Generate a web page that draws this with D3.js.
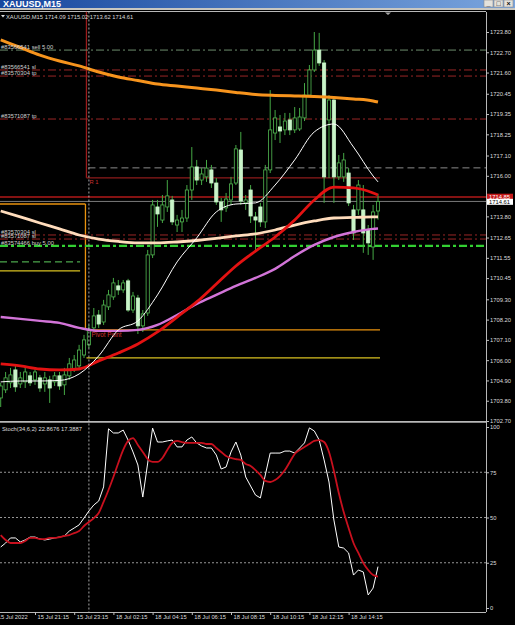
<!DOCTYPE html>
<html><head><meta charset="utf-8">
<script src="https://cdn.jsdelivr.net/npm/d3@7/dist/d3.min.js"></script>
<style>
html,body{margin:0;padding:0;background:#000;overflow:hidden}
svg{display:block}
text{font-family:"Liberation Sans",Arial,sans-serif}
</style></head><body>
<svg id="chart" width="515" height="625"></svg>
<script>
// ---------------- DATA ----------------
const symbol = "XAUUSD,M15";
const opens = [1703.95,1704.39,1704.77,1705.47,1704.71,1704.82,1705.15,1704.93,1705.04,1704.71,
1704.93,1704.82,1705.15,1704.66,1705.15,1705.47,1705.69,1706.28,1706.83,1707.75,
1708.45,1708.07,1708.89,1709.43,1710.03,1709.81,1710.30,1708.72,1709.37,1707.86,
1708.56,1711.71,1714.31,1713.60,1714.31,1714.69,1713.33,1713.50,1713.71,1715.23,
1716.48,1715.77,1715.94,1716.32,1715.61,1714.58,1714.26,1714.69,1715.61,1717.40,
1714.53,1715.23,1713.77,1714.31,1713.50,1716.32,1718.32,1718.65,1718.49,1719.03,
1718.49,1718.54,1719.14,1720.38,1721.74,1722.82,1722.12,1719.03,1720.11,1715.94,
1715.94,1716.15,1714.15,1714.15,1714.15,1713.06,1712.14,1714.09];
const highs = [1704.77,1705.36,1705.58,1705.69,1705.36,1705.69,1705.36,1705.58,1705.20,1705.36,
1705.15,1705.36,1705.36,1705.58,1706.12,1706.28,1706.83,1707.37,1707.91,1708.83,
1708.72,1709.27,1709.81,1710.46,1710.35,1710.35,1710.41,1709.70,1709.54,1708.72,
1711.98,1714.69,1714.69,1714.96,1715.77,1714.91,1713.88,1714.15,1715.50,1717.56,
1716.86,1716.42,1716.86,1716.59,1715.88,1714.80,1715.07,1715.94,1717.67,1718.38,
1714.96,1715.50,1714.04,1714.53,1716.59,1720.65,1719.57,1719.30,1719.41,1719.41,
1719.73,1719.68,1721.03,1722.01,1723.80,1723.75,1722.28,1720.38,1720.27,1717.13,
1717.24,1716.42,1714.42,1715.77,1715.50,1713.33,1714.42,1715.02];
const lows = [1703.46,1704.22,1704.49,1704.28,1704.49,1704.49,1704.60,1704.66,1704.28,1704.28,
1703.68,1704.60,1704.39,1704.11,1704.93,1705.36,1705.47,1706.12,1706.66,1707.53,
1707.75,1707.91,1708.72,1709.27,1709.54,1709.65,1708.62,1708.56,1707.42,1707.53,
1708.40,1711.54,1713.23,1713.44,1714.04,1713.33,1712.95,1712.95,1713.50,1714.69,
1715.50,1715.50,1715.67,1715.34,1714.42,1713.50,1714.04,1714.42,1715.50,1714.42,
1714.15,1713.44,1711.98,1713.23,1713.17,1716.15,1717.94,1717.78,1718.21,1718.21,
1718.32,1718.43,1718.97,1720.27,1721.63,1721.96,1714.53,1715.88,1714.53,1715.77,
1715.67,1714.36,1712.52,1713.88,1711.82,1711.71,1711.44,1713.62];
const closes = [1704.60,1705.04,1705.20,1704.55,1705.04,1705.36,1704.77,1705.36,1704.49,1705.04,
1704.49,1705.15,1704.60,1705.20,1705.80,1706.01,1706.55,1707.10,1707.64,1708.40,
1707.96,1708.99,1709.54,1710.19,1709.81,1710.19,1708.72,1709.48,1707.86,1708.51,
1711.71,1714.42,1713.93,1714.42,1714.91,1713.50,1713.60,1713.71,1715.23,1716.48,
1715.77,1716.10,1716.42,1715.61,1714.58,1714.15,1714.74,1715.56,1717.46,1714.63,
1714.69,1713.82,1713.60,1713.50,1716.32,1718.49,1719.14,1718.43,1718.97,1718.49,
1719.14,1719.19,1720.38,1721.74,1722.82,1722.12,1715.94,1720.11,1715.94,1716.70,
1716.86,1714.53,1712.90,1715.50,1712.90,1712.36,1714.04,1714.61];

// moving averages sampled at these bar indices
const maIdx = [0,4,8,12,16,20,24,28,32,36,40,44,48,52,56,60,64,68,72,76,77];
const maOrange = [1723.37,1722.96,1722.55,1722.23,1721.96,1721.63,1721.36,1721.17,1720.98,1720.87,1720.76,1720.65,1720.52,1720.41,1720.36,1720.33,1720.30,1720.25,1720.17,1720.06,1720.00];
const maPeach = [1714.09,1713.77,1713.44,1713.12,1712.79,1712.57,1712.44,1712.36,1712.36,1712.41,1712.49,1712.60,1712.74,1712.85,1713.06,1713.33,1713.55,1713.71,1713.74,1713.77,1713.77];
const maPink = [1708.34,1708.24,1708.13,1708.02,1707.75,1707.59,1707.59,1707.64,1707.91,1708.45,1709.05,1709.54,1710.03,1710.46,1710.95,1711.65,1712.25,1712.68,1712.95,1713.12,1713.14];
const maRed = [1705.80,1705.69,1705.52,1705.47,1705.52,1705.96,1706.39,1706.88,1707.53,1708.34,1709.16,1710.13,1711.11,1711.92,1712.68,1713.60,1714.69,1715.39,1715.34,1715.07,1714.96];
const maWhite = [1704.82,1704.87,1704.87,1704.90,1705.25,1706.23,1707.64,1708.13,1709.54,1711.33,1712.63,1714.04,1714.47,1714.53,1715.50,1716.86,1718.38,1718.81,1717.56,1715.99,1715.67];

// stochastic (34,6,2)
const stochK = [33.7,35.9,38.7,38.7,36.5,37.6,39.2,39.2,38.1,37.6,
38.1,38.7,39.2,39.8,42.5,44.2,45.9,49.7,53.6,56.9,
59.1,66.9,99.0,96.7,96.7,98.3,92.8,86.2,79.0,61.3,
80.1,99.4,91.7,91.7,92.3,92.8,89.0,89.0,92.8,94.5,
91.2,89.5,88.4,88.4,84.5,76.8,77.9,86.2,91.7,84.5,
72.4,67.4,62.4,60.8,73.5,85.6,85.6,85.6,86.7,86.7,
85.6,88.4,91.2,99.5,97.8,92.8,81.8,69.6,48.6,33.7,
33.1,30.4,18.2,21.0,19.9,7.2,11.0,22.8676];
const stochD = [40.3,37.6,35.9,35.9,35.9,37.0,38.7,38.7,38.1,38.1,
38.7,38.7,39.2,39.8,40.3,41.4,42.5,45.3,47.5,49.7,
52.5,58.6,65.2,72.4,80.1,87.3,92.3,93.9,90.0,86.2,
82.3,80.7,80.7,82.9,87.3,91.2,92.3,91.7,91.2,91.2,
91.2,91.2,90.6,90.6,88.4,86.2,84.0,82.9,82.3,81.8,
79.6,78.5,76.2,73.5,70.2,69.6,70.7,72.9,76.2,80.7,
85.1,87.3,89.0,90.6,92.3,92.8,91.7,86.2,75.7,63.5,
53.0,44.2,35.9,30.4,24.9,21.0,18.2,17.3887];
const stochLabel = "Stoch(34,6,2)";

// trade lines
const orderPrices = [1722.82,1721.74,1721.41,1719.08,1712.79,1712.57,1712.20];
const orderLabels = ["#83566541 sell 5.00","#83566541 sl","#83570304 tp","#83571087 tp","#83570304 sl","#83571087 sl","#83574466 buy 5.00"];
const orderTypes = ["sell","sl","tp","tp","sl","sl","buy"];

// pivot levels (previous day / current day)
const pivotPrev = 1714.47, pivotNew = 1707.64;
const s1Prev = 1710.84, s1New = 1706.12;
const greenPrev = 1711.33;
const r1New = 1715.89;
const greyLevel = 1716.43;
const alertPrice = 1714.85;
const dayStartBar = 18;

// axes
const priceTicks = [1723.80,1722.70,1721.60,1720.45,1719.35,1718.25,1717.10,1716.00,1713.80,1712.65,1711.55,1710.45,1709.30,1708.20,1707.10,1706.00,1704.90,1703.80,1702.70];
const stochTicks = [100,75,50,25,0];
const stochLevels = [75,50,25];
const xTickBars = [0,7,15,23,31,39,47,55,63,71];
const xTickLabels = ["15 Jul 2022","15 Jul 21:15","15 Jul 23:15","18 Jul 02:15","18 Jul 04:15","18 Jul 06:15","18 Jul 08:15","18 Jul 10:15","18 Jul 12:15","18 Jul 14:15"];

// ---------------- DRAW ----------------
const svg = d3.select('#chart');
const AX = 486, MT = 11.5, MB = 421, ST = 422.5, SB = 612;
const n = closes.length;
const x = d3.scaleLinear().domain([0, n - 1]).range([0.7, 378]);
const y = d3.scaleLinear().domain([1702.70, 1723.80]).range([421, 32]);
const ys = d3.scaleLinear().domain([0, 100]).range([608, 427]);
const FS = 5.8, TXT = '#dcdcdc';

svg.append('rect').attr('width', 515).attr('height', 625).attr('fill', '#000');
const defs = svg.append('defs');
const tg = defs.append('linearGradient').attr('id', 'tb').attr('x1', 0).attr('x2', 1).attr('y1', 0).attr('y2', 0);
tg.append('stop').attr('offset', '0%').attr('stop-color', '#17479e');
tg.append('stop').attr('offset', '100%').attr('stop-color', '#7aa5de');
defs.append('clipPath').attr('id', 'cm').append('rect').attr('x', 0).attr('y', MT).attr('width', AX).attr('height', MB - MT);
defs.append('clipPath').attr('id', 'cs').append('rect').attr('x', 0).attr('y', ST).attr('width', AX).attr('height', SB - ST);

// title bar
svg.append('rect').attr('x', 0).attr('y', 0).attr('width', 515).attr('height', 8).attr('fill', 'url(#tb)');
svg.append('rect').attr('x', 0).attr('y', 8).attr('width', 515).attr('height', 2).attr('fill', '#c9c7c0');
svg.append('text').attr('x', 3).attr('y', 6.5).attr('fill', '#fff').attr('font-size', 9).attr('font-weight', 'bold').text(symbol);
const btns = ['_', '□', '×'];
btns.forEach((b, i) => {
  const bx = 484 + i * 10;
  svg.append('rect').attr('x', bx).attr('y', 0).attr('width', 9).attr('height', 7).attr('fill', '#e4e2dc').attr('stroke', '#8a8a8a').attr('stroke-width', 0.6);
  svg.append('text').attr('x', bx + 4.5).attr('y', 6).attr('text-anchor', 'middle').attr('font-size', 7).attr('font-weight', 'bold').attr('fill', '#111').text(b);
});

// frame lines
const frame = svg.append('g').attr('stroke', '#b8b8b8').attr('shape-rendering', 'crispEdges');
frame.append('line').attr('x1', 0).attr('x2', AX).attr('y1', MT).attr('y2', MT);
frame.append('line').attr('x1', AX).attr('x2', AX).attr('y1', MT).attr('y2', SB);
frame.append('line').attr('x1', 0).attr('x2', AX).attr('y1', MB).attr('y2', MB).attr('stroke-width', 1);
frame.append('line').attr('x1', 0).attr('x2', AX).attr('y1', ST).attr('y2', ST).attr('stroke', '#888');
frame.append('line').attr('x1', 0).attr('x2', AX).attr('y1', SB).attr('y2', SB);

// shift marker
svg.append('path').attr('d', `M385,12.5 L391,12.5 L388,15 Z`).attr('fill', '#a8a8a8');

const gm = svg.append('g').attr('clip-path', 'url(#cm)');
function hl(g, p, x1, x2, color, w, dash) {
  const l = g.append('line').attr('x1', x1).attr('x2', x2).attr('y1', y(p)).attr('y2', y(p))
    .attr('stroke', color).attr('stroke-width', w);
  if (dash) l.attr('stroke-dasharray', dash);
  return l;
}
const xb = (x(dayStartBar - 1) + x(dayStartBar)) / 2;
const xEnd = x(n - 1) + 2;

// previous-day pivot levels
hl(gm, greenPrev, 0, x(dayStartBar - 2) + 1, '#5fcf5f', 1, '7,4');
hl(gm, s1Prev, 0, x(dayStartBar - 2) + 1, '#d8c020', 1.3);
hl(gm, pivotPrev, 0, xb - 1, '#e8920e', 1.3);
gm.append('line').attr('x1', xb - 1).attr('x2', xb - 1).attr('y1', y(pivotPrev)).attr('y2', y(pivotNew)).attr('stroke', '#e8920e').attr('stroke-width', 1.3);
// current-day pivot levels
hl(gm, pivotNew, xb, xEnd, '#e8920e', 1.3);
hl(gm, s1New, xb, xEnd, '#d8c020', 1.3);
hl(gm, r1New, xb, xEnd, '#8e1b1b', 1.3);
gm.append('line').attr('x1', xb).attr('x2', xb).attr('y1', MT).attr('y2', y(r1New)).attr('stroke', '#9b1c1c').attr('stroke-width', 1.3);
gm.append('text').attr('x', xb + 3).attr('y', y(r1New) + 6).attr('fill', '#c83030').attr('font-size', FS).text('R 1');
gm.append('text').attr('x', xb + 5).attr('y', y(pivotNew) + 7).attr('fill', '#d03030').attr('font-size', 6.3).text('Pivot Point');
hl(gm, greyLevel, xb + 2, AX, '#8a8a8a', 1, '7,4');

// trade lines
const orderStyle = {sell: ['#6d8d6d', 1, '8,3,2,3'], sl: ['#9a2626', 1, '8,3,2,3'], tp: ['#9a2626', 1, '8,3,2,3'], buy: ['#33d033', 2.2, '8,3,3,3']};
orderPrices.forEach((p, i) => {
  const s = orderStyle[orderTypes[i]];
  hl(gm, p, 0, AX, s[0], s[1], s[2]);
});
// alert + bid lines
hl(gm, alertPrice, 0, AX, '#b01818', 1.5);
hl(gm, closes[n - 1], 0, AX, '#9a9a9a', 0.8);

// day separator
svg.append('line').attr('x1', x(dayStartBar)).attr('x2', x(dayStartBar)).attr('y1', MT).attr('y2', SB)
  .attr('stroke', '#d0d0d0').attr('stroke-width', 0.8).attr('stroke-dasharray', '2,2');

// candles
const cg = gm.append('g');
const idx = d3.range(n);
cg.selectAll('line.w').data(idx).join('line')
  .attr('x1', i => x(i)).attr('x2', i => x(i)).attr('y1', i => y(highs[i])).attr('y2', i => y(lows[i]))
  .attr('stroke', '#45a845').attr('stroke-width', 1);
cg.selectAll('rect.b').data(idx).join('rect')
  .attr('x', i => x(i) - 1.6).attr('width', 3.2)
  .attr('y', i => y(Math.max(opens[i], closes[i])))
  .attr('height', i => Math.max(0.8, Math.abs(y(opens[i]) - y(closes[i]))))
  .attr('fill', i => closes[i] >= opens[i] ? '#000' : '#c8f4c8')
  .attr('stroke', i => closes[i] >= opens[i] ? '#52b852' : '#c8f4c8')
  .attr('stroke-width', 0.8);

// moving averages
const lineMA = d3.line().x(d => x(d[0])).y(d => y(d[1])).curve(d3.curveMonotoneX);
function ma(vals, color, w) {
  gm.append('path').attr('d', lineMA(maIdx.map((k, j) => [k, vals[j]])))
    .attr('fill', 'none').attr('stroke', color).attr('stroke-width', w).attr('stroke-linejoin', 'round');
}
ma(maPink, '#d274d8', 2.4);
ma(maPeach, '#ffdcbc', 2.8);
ma(maRed, '#e31212', 2.8);
ma(maOrange, '#f7941d', 3);
ma(maWhite, '#ffffff', 1);

// trade labels
orderPrices.forEach((p, i) => {
  gm.append('text').attr('x', 1).attr('y', y(p) - 1.2).attr('fill', '#cfcfcf').attr('font-size', FS).text(orderLabels[i]);
});

// header
const f2 = d3.format('.2f');
svg.append('path').attr('d', 'M1,15 L5,15 L3,17.5 Z').attr('fill', '#ddd');
svg.append('text').attr('x', 6).attr('y', 18.5).attr('fill', TXT).attr('font-size', FS)
  .text(`${symbol}  ${f2(opens[n-1])} ${f2(highs[n-1])} ${f2(lows[n-1])} ${f2(closes[n-1])}`);

// price axis
const pa = svg.append('g').attr('transform', `translate(${AX},0)`)
  .call(d3.axisRight(y).tickValues(priceTicks).tickSize(3).tickPadding(1).tickFormat(f2));
pa.select('.domain').remove();
pa.selectAll('line').attr('stroke', '#c0c0c0');
pa.selectAll('text').attr('fill', TXT).attr('font-size', FS).attr('font-family', '"Liberation Sans",Arial,sans-serif');

// price boxes
svg.append('rect').attr('x', AX + 1).attr('y', y(alertPrice) - 3.3).attr('width', 26).attr('height', 6).attr('fill', '#c41a1a');
svg.append('text').attr('x', AX + 3).attr('y', y(alertPrice) + 2).attr('fill', '#fff').attr('font-size', FS).text(f2(alertPrice));
svg.append('rect').attr('x', AX + 1).attr('y', y(closes[n-1]) - 2.6).attr('width', 26).attr('height', 6).attr('fill', '#fff');
svg.append('text').attr('x', AX + 3).attr('y', y(closes[n-1]) + 2.4).attr('fill', '#000').attr('font-size', FS).text(f2(closes[n-1]));

// stochastic panel
const gs = svg.append('g').attr('clip-path', 'url(#cs)');
stochLevels.forEach(v => {
  gs.append('line').attr('x1', 0).attr('x2', AX).attr('y1', ys(v)).attr('y2', ys(v))
    .attr('stroke', '#bdbdbd').attr('stroke-width', 0.8).attr('stroke-dasharray', '2,2');
});
const ls = d3.line().x((d, i) => x(i)).y(d => ys(d));
gs.append('path').attr('d', ls(stochK)).attr('fill', 'none').attr('stroke', '#fff').attr('stroke-width', 1);
gs.append('path').attr('d', ls.curve(d3.curveMonotoneX)(stochD)).attr('fill', 'none').attr('stroke', '#c8101e').attr('stroke-width', 1.8);
svg.append('text').attr('x', 2).attr('y', 431).attr('fill', TXT).attr('font-size', FS)
  .text(`${stochLabel} ${stochK[n-1].toFixed(4)} ${stochD[n-1].toFixed(4)}`);
const sa = svg.append('g').attr('transform', `translate(${AX},0)`)
  .call(d3.axisRight(ys).tickValues(stochTicks).tickSize(3).tickPadding(1).tickFormat(d3.format('d')));
sa.select('.domain').remove();
sa.selectAll('line').attr('stroke', '#c0c0c0');
sa.selectAll('text').attr('fill', TXT).attr('font-size', FS).attr('font-family', '"Liberation Sans",Arial,sans-serif');

// time axis
const xa = svg.append('g').attr('transform', `translate(0,${SB})`)
  .call(d3.axisBottom(x).tickValues(xTickBars).tickSize(3).tickPadding(1).tickFormat((d, i) => xTickLabels[i]));
xa.select('.domain').remove();
xa.selectAll('line').attr('stroke', '#c0c0c0').attr('opacity', (d, i) => i === 0 ? 0 : 1);
xa.selectAll('text').attr('fill', TXT).attr('font-size', FS).attr('text-anchor', 'start')
  .attr('font-family', '"Liberation Sans",Arial,sans-serif')
  .attr('dx', (d, i) => i === 0 ? -3.5 : 2).attr('dy', 0).attr('y', 7);
</script>
</body></html>
